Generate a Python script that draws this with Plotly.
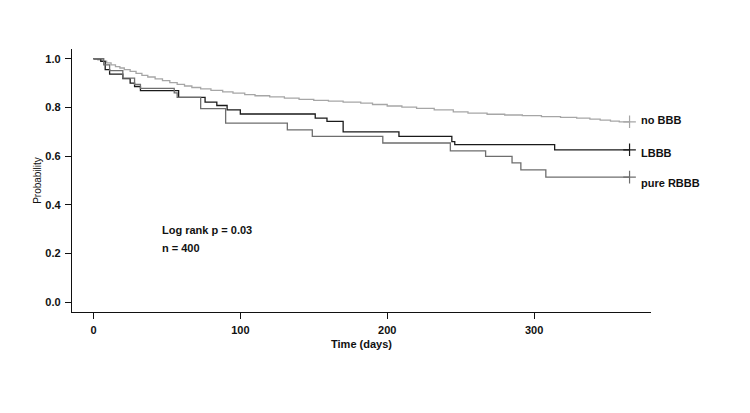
import plotly.graph_objects as go

# ---- data ----
nobbb_t = [0, 3, 6, 9, 12, 15, 18, 21, 25, 29, 33, 37, 42, 47, 52, 57, 62, 67, 73, 80, 88, 95,
           103, 110, 120, 130, 140, 150, 160, 170, 182, 190, 200, 210, 220, 232, 245, 255, 268,
           280, 292, 305, 318, 329, 338, 345, 352, 358, 365]
nobbb_s = [1.0, 0.995, 0.99, 0.983, 0.975, 0.968, 0.962, 0.955, 0.948, 0.94, 0.932, 0.925, 0.917,
           0.91, 0.902, 0.895, 0.888, 0.882, 0.876, 0.87, 0.864, 0.859, 0.853, 0.848, 0.843, 0.838,
           0.833, 0.829, 0.826, 0.822, 0.818, 0.812, 0.806, 0.801, 0.796, 0.79, 0.782, 0.777, 0.772,
           0.769, 0.766, 0.762, 0.759, 0.756, 0.752, 0.748, 0.744, 0.741, 0.741]

lbbb_t = [0, 5, 8, 11, 20, 25, 28, 32, 58, 76, 84, 91, 100, 151, 159, 170, 208, 244, 246, 314, 365]
lbbb_s = [1.0, 0.989, 0.955, 0.937, 0.918, 0.90, 0.886, 0.869, 0.841, 0.822, 0.808, 0.79, 0.773,
          0.756, 0.743, 0.70, 0.681, 0.66, 0.647, 0.626, 0.626]

rbbb_t = [0, 7, 11, 20, 28, 32, 55, 57, 73, 90, 132, 149, 197, 243, 267, 285, 291, 308, 365]
rbbb_s = [1.0, 0.975, 0.951, 0.92, 0.895, 0.878, 0.86, 0.841, 0.795, 0.736, 0.708, 0.681, 0.654,
          0.622, 0.599, 0.572, 0.544, 0.514, 0.514]

labels = ["no BBB", "LBBB", "pure RBBB"]
colors = ["#a6a6a6", "#1a1a1a", "#6e6e6e"]
censor_day = [365, 365, 365]
label_shift = [2, -3, -6]

x_ticks = [0, 100, 200, 300]
y_ticks = [0.0, 0.2, 0.4, 0.6, 0.8, 1.0]
y_ticktext = ["0.0", "0.2", "0.4", "0.6", "0.8", "1.0"]

FONT = "Liberation Sans, Arial, sans-serif"

fig = go.Figure()
series = [(nobbb_t, nobbb_s), (lbbb_t, lbbb_s), (rbbb_t, rbbb_s)]
for (t, s), name, col, cd in zip(series, labels, colors, censor_day):
    fig.add_trace(go.Scatter(x=t, y=s, mode="lines", line=dict(color=col, width=1.3, shape="hv"),
                             name=name, showlegend=False, hoverinfo="skip"))
    fig.add_trace(go.Scatter(x=[cd], y=[s[-1]], mode="markers",
                             marker=dict(symbol="cross-thin", size=9,
                                         line=dict(color=col, width=1.2)),
                             showlegend=False, hoverinfo="skip"))

for (t, s), name, ls in zip(series, labels, label_shift):
    fig.add_annotation(x=t[-1], y=s[-1], text="<b>" + name + "</b>", showarrow=False,
                       xanchor="left", xshift=9, yshift=ls,
                       font=dict(family=FONT, size=11, color="#111"))

fig.add_annotation(x=45.5, y=0.298, text="<b>Log rank p = 0.03</b>", showarrow=False,
                   xanchor="left", font=dict(family=FONT, size=11, color="#111"))
fig.add_annotation(x=45.5, y=0.224, text="<b>n = 400</b>", showarrow=False,
                   xanchor="left", font=dict(family=FONT, size=11, color="#111"))

axis_common = dict(showline=True, linecolor="#111", linewidth=1.3, ticks="outside", ticklen=6,
                   tickwidth=1.2, tickcolor="#111", showgrid=False, zeroline=False,
                   ticklabelstandoff=2,
                   tickfont=dict(family=FONT, size=11, color="#111"))

fig.update_xaxes(range=[-14.6, 379.6], tickvals=x_ticks,
                 ticktext=["<b>%d</b>" % v for v in x_ticks],
                 title=dict(text="<b>Time (days)</b>", standoff=4,
                            font=dict(family=FONT, size=11, color="#111")),
                 **axis_common)
fig.update_yaxes(range=[-0.04, 1.04], tickvals=y_ticks,
                 ticktext=["<b>%s</b>" % v for v in y_ticktext],
                 title=dict(text="Probability", standoff=1,
                            font=dict(family=FONT, size=10, color="#111")),
                 **axis_common)

fig.update_layout(width=750, height=413, margin=dict(l=72, r=99, t=49, b=101),
                  plot_bgcolor="white", paper_bgcolor="white")

fig.write_html("out.html")
